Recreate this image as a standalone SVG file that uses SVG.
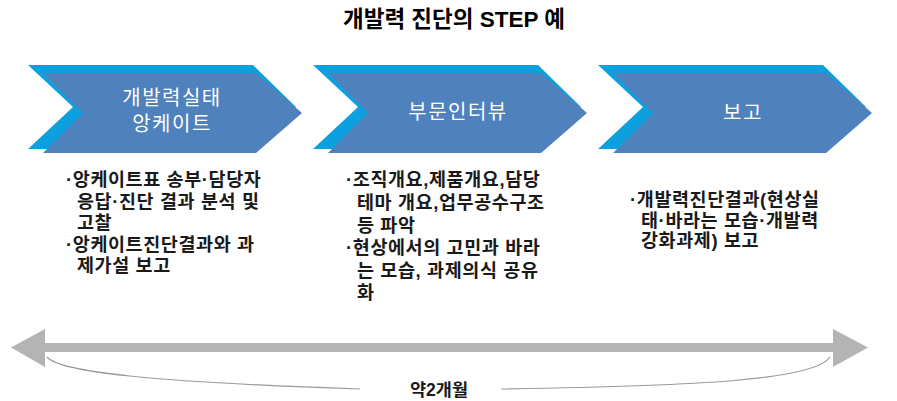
<svg xmlns="http://www.w3.org/2000/svg" width="897" height="401" viewBox="0 0 897 401">
<style>
.back{fill:#0DA0DE}
.front{fill:#4F81BD}
.lbl{font-family:"Liberation Sans","Noto Sans CJK KR",sans-serif;font-size:20px;letter-spacing:1.5px;fill:#FFFFFF;text-anchor:middle}
.body{font-family:"Liberation Sans","Noto Sans CJK KR",sans-serif;font-size:18.5px;letter-spacing:0.6px;font-weight:bold;fill:#1A1A1A}
.title{font-family:"Liberation Sans","Noto Sans CJK KR",sans-serif;font-size:22.5px;font-weight:bold;fill:#000000;text-anchor:middle}
.dur{font-family:"Liberation Sans","Noto Sans CJK KR",sans-serif;font-size:17.5px;font-weight:bold;fill:#1A1A1A;text-anchor:middle}
.bar{stroke:#B4B4B4;stroke-width:9;fill:none}
.head{fill:#B4B4B4}
.brace{stroke:#9A9A9A;stroke-width:1.2;fill:none}
</style>
<defs>
<path id="chevBack" d="M0,65 L225,65 L268,107 L225,149 L0,149 L45,107 Z"/>
<path id="chevFront" d="M15,73 L228,73 L274,113 L228,153 L15,153 L55,113 Z"/>
</defs>
<rect width="897" height="401" fill="#FFFFFF"/>
<text class="title" x="454" y="27">개발력 진단의 STEP 예</text>

<g id="step1">
<use href="#chevBack" class="back" x="28"/>
<use href="#chevFront" class="front" x="28"/>
<text class="lbl" x="172" y="105">개발력실태</text>
<text class="lbl" x="172" y="131">앙케이트</text>
</g>
<g id="step2">
<use href="#chevBack" class="back" x="313"/>
<use href="#chevFront" class="front" x="313"/>
<text class="lbl" x="458" y="119">부문인터뷰</text>
</g>
<g id="step3">
<use href="#chevBack" class="back" x="598"/>
<use href="#chevFront" class="front" x="598"/>
<text class="lbl" x="743" y="120">보고</text>
</g>

<g id="desc1">
<text class="body"><tspan x="66" y="186">·앙케이트표 송부·담당자</tspan><tspan x="77" y="207.5">응답·진단 결과 분석 및</tspan><tspan x="77" y="229">고찰</tspan><tspan x="66" y="250.5">·앙케이트진단결과와 과</tspan><tspan x="77" y="272">제가설 보고</tspan></text>
</g>
<g id="desc2">
<text class="body"><tspan x="346" y="186">·조직개요,제품개요,담당</tspan><tspan x="357" y="209">테마 개요,업무공수구조</tspan><tspan x="357" y="231.5">등 파악</tspan><tspan x="346" y="254">·현상에서의 고민과 바라</tspan><tspan x="357" y="276.5">는 모습, 과제의식 공유</tspan><tspan x="357" y="299">화</tspan></text>
</g>
<g id="desc3">
<text class="body"><tspan x="630" y="206">·개발력진단결과(현상실</tspan><tspan x="641" y="226.5">태·바라는 모습·개발력</tspan><tspan x="641" y="247">강화과제) 보고</tspan></text>
</g>

<g id="connectors">
<line class="bar" x1="44" y1="347.5" x2="834" y2="347.5"/>
<polygon class="head" points="11,347.5 45,329 45,367"/>
<polygon class="head" points="868,347.5 833,329 833,367"/>
<path class="brace" d="M47,357 C60,372 150,382 360,389"/>
<path class="brace" d="M501,389 C700,386 815,380 830,357"/>
</g>
<text class="dur" x="439" y="396">약2개월</text>
</svg>
